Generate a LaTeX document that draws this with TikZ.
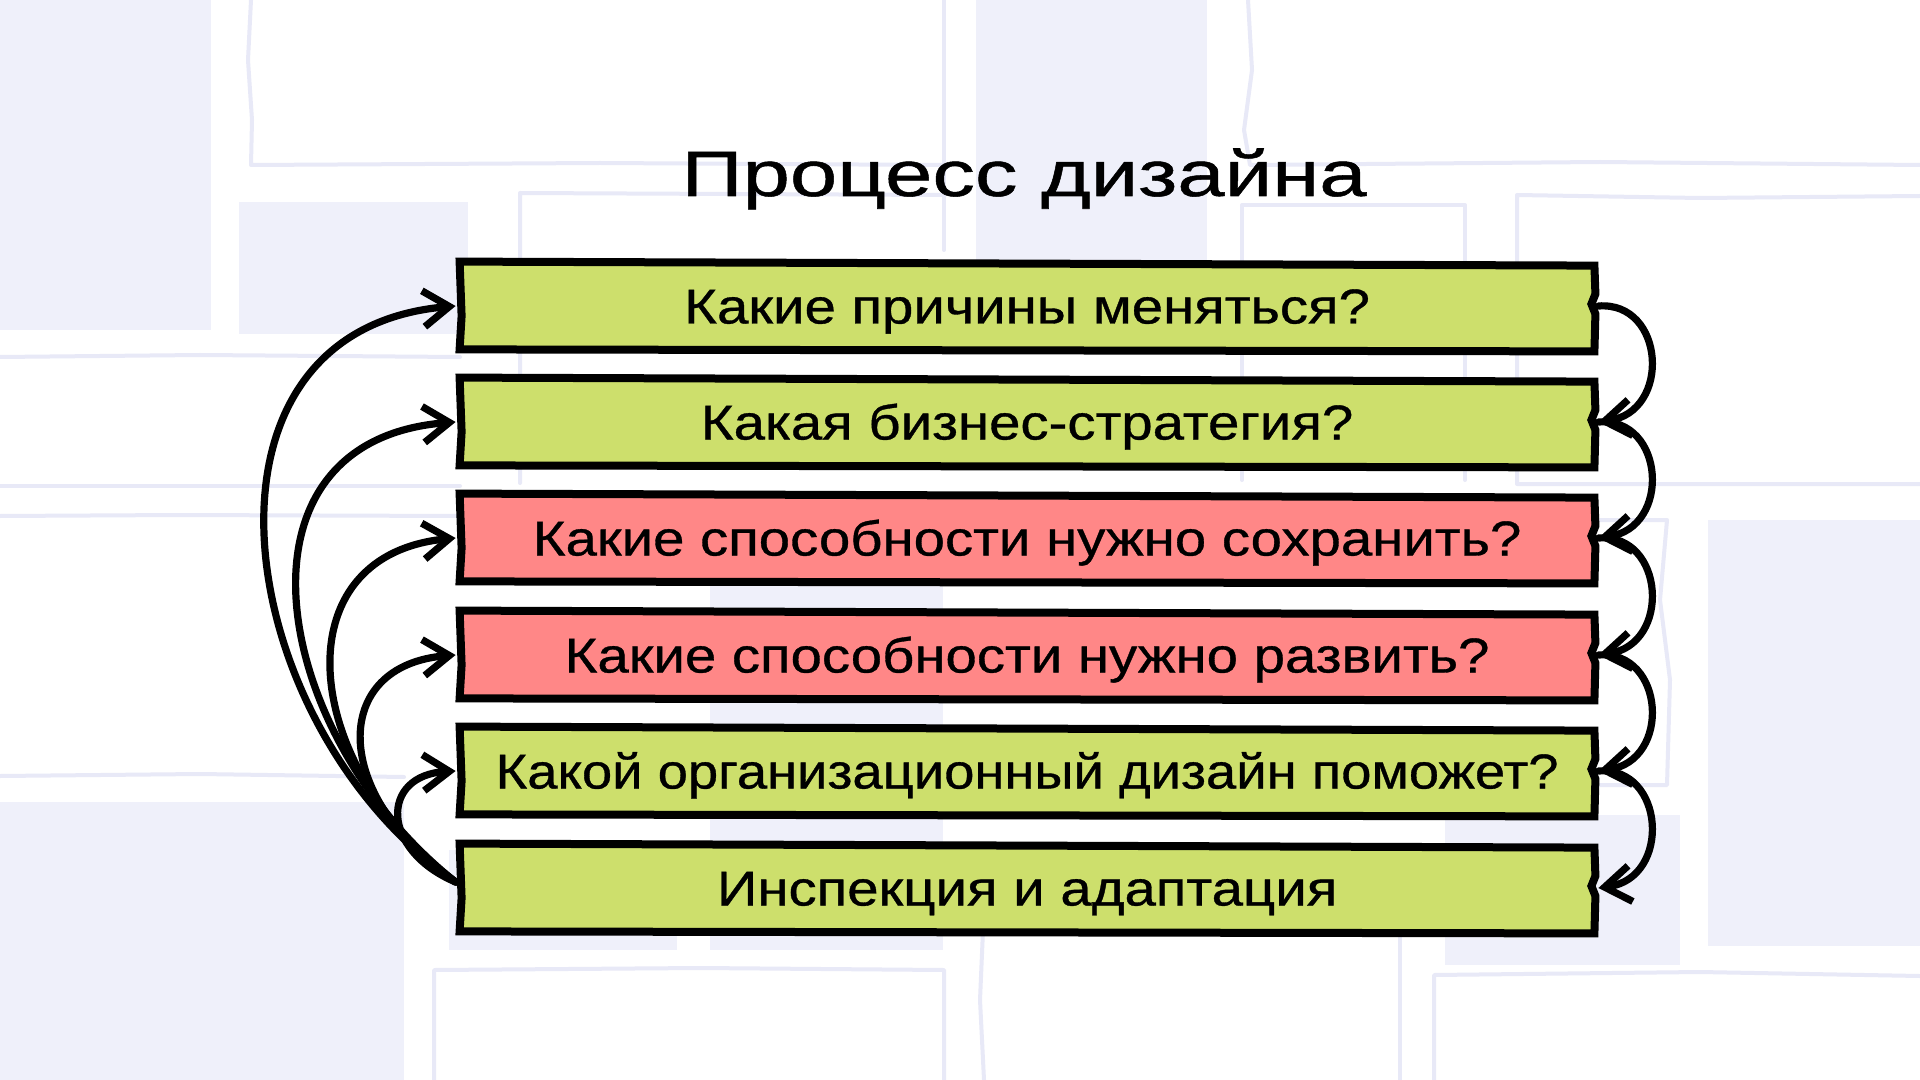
\documentclass[tikz,border=0pt]{standalone}
\usepackage{fontspec}
\setmainfont{Liberation Sans}
\newfontfamily\boxfont[FakeStretch=1.15,FakeBold=0.7]{Liberation Sans}
\newfontfamily\titlefont[FakeStretch=1.33,FakeBold=0.8]{Liberation Sans}
\usetikzlibrary{arrows.meta,calc}
\definecolor{qgreen}{HTML}{CDDF6C}
\definecolor{qrose}{HTML}{FF8787}
\definecolor{lavfill}{HTML}{EFF0FA}
\definecolor{lavline}{HTML}{E8E9F7}
\tikzset{
  qbox/.style={fill=#1, draw=none, minimum width=567pt, minimum height=42pt,
    inner sep=0pt, font=\boxfont\fontsize{24.5}{29}\selectfont,
    text height=17.5pt, text depth=0pt},
  boxline/.style={line width=4pt, line join=miter},
  flow/.style={line width=3.6pt, line cap=round, line join=round,
    -{Straight Barb[length=13pt,width=18pt]}},
  bgfill/.style={fill=lavfill, draw=none},
  bgline/.style={draw=lavline, line width=2pt, line cap=round, line join=round},
  titletext/.style={font=\titlefont\fontsize{32}{38}\selectfont, anchor=base, inner sep=0pt}
}
\newcommand\sketchbox[1]{%
  \draw[boxline] ($(#1.north west)+(0,-2)$) -- ($(#1.north east)+(0,2)$)
    -- ($(#1.east)+(1,-12)$) -- ($(#1.east)+(-3,-2)$) -- ($(#1.east)+(1,8)$)
    -- ($(#1.south east)+(0,3)$) -- ($(#1.south west)+(0,1)$)
    -- ($(#1.west)+(2,10)$) -- cycle;}
\begin{document}
\begin{tikzpicture}[x=0.5pt,y=-0.5pt]
\useasboundingbox (0,0) rectangle (1920,1080);
\fill[white] (0,0) rectangle (1920,1080);
% background fills
\fill[bgfill] (0,0) rectangle (211,330);
\fill[bgfill] (239,202) rectangle (468,334);
\fill[bgfill] (976,0) rectangle (1207,300);
\fill[bgfill] (1708,520) rectangle (1920,946);
\fill[bgfill] (1445,815) rectangle (1680,965);
\fill[bgfill] (0,802) rectangle (404,1080);
\fill[bgfill] (710,580) rectangle (943,950);
\fill[bgfill] (449,850) rectangle (677,950);
% background outlines
\draw[bgline] (251,0) -- (248,60) -- (252,120) -- (251,165) -- (600,163) -- (944,165);
\draw[bgline] (944,0) -- (944,250);
\draw[bgline] (1248,0) -- (1252,70) -- (1244,130) -- (1250,165) -- (1600,162) -- (1920,165);
\draw[bgline] (1920,196) -- (1700,198) -- (1517,195) -- (1517,484) -- (1920,484);
\draw[bgline] (1242,480) -- (1242,205) -- (1465,205) -- (1465,480);
\draw[bgline] (520,483) -- (520,193) -- (944,195);
\draw[bgline] (0,357) -- (200,355) -- (460,357);
\draw[bgline] (0,486) -- (460,486);
\draw[bgline] (0,516) -- (180,515) -- (460,516);
\draw[bgline] (0,776) -- (200,774) -- (404,777);
\draw[bgline] (1600,520) -- (1667,520) -- (1660,600) -- (1670,680) -- (1667,785) -- (1600,785);
\draw[bgline] (434,1080) -- (434,970) -- (700,968) -- (944,970) -- (944,1080);
\draw[bgline] (983,930) -- (980,1000) -- (984,1080);
\draw[bgline] (1400,930) -- (1400,1080);
\draw[bgline] (1434,1080) -- (1434,975) -- (1700,972) -- (1920,976);
% title
\node[titletext] (title) at (1024,196) {Процесс дизайна};
% boxes
\node[qbox=qgreen] (b1) at (1027,306) {Какие причины меняться?};
\node[qbox=qgreen] (b2) at (1027,422) {Какая бизнес-стратегия?};
\node[qbox=qrose]  (b3) at (1027,538) {Какие способности нужно сохранить?};
\node[qbox=qrose]  (b4) at (1027,655) {Какие способности нужно развить?};
\node[qbox=qgreen] (b5) at (1027,771) {\scalebox{0.965}[1]{Какой организационный дизайн поможет?}};
\node[qbox=qgreen] (b6) at (1027,888) {Инспекция и адаптация};
\foreach \b in {b1,b2,b3,b4,b5,b6}{\sketchbox{\b}}
% left arrows from the last box back to each earlier box
\draw[flow] ($(b6.west)+(-4,-6)$) .. controls (230,725) and (175,330) .. ($(b1.west)+(-4,0)$);
\draw[flow] ($(b6.west)+(-4,-6)$) .. controls (270,735) and (220,440) .. ($(b2.west)+(-4,0)$);
\draw[flow] ($(b6.west)+(-4,-6)$) .. controls (300,765) and (280,555) .. ($(b3.west)+(-4,0)$);
\draw[flow] ($(b6.west)+(-4,-6)$) .. controls (330,795) and (330,665) .. ($(b4.west)+(-4,0)$);
\draw[flow] ($(b6.west)+(-4,-6)$) .. controls (380,850) and (380,775) .. ($(b5.west)+(-4,0)$);
% right arrows between consecutive boxes
\draw[flow] ($(b1.east)+(4,0)$) .. controls (1665,301) and (1672,412) .. ($(b2.east)+(4,0)$);
\draw[flow] ($(b2.east)+(4,0)$) .. controls (1665,417) and (1672,528) .. ($(b3.east)+(4,0)$);
\draw[flow] ($(b3.east)+(4,0)$) .. controls (1665,533) and (1672,645) .. ($(b4.east)+(4,0)$);
\draw[flow] ($(b4.east)+(4,0)$) .. controls (1665,650) and (1672,761) .. ($(b5.east)+(4,0)$);
\draw[flow] ($(b5.east)+(4,0)$) .. controls (1665,766) and (1672,878) .. ($(b6.east)+(4,0)$);
\end{tikzpicture}
\end{document}
